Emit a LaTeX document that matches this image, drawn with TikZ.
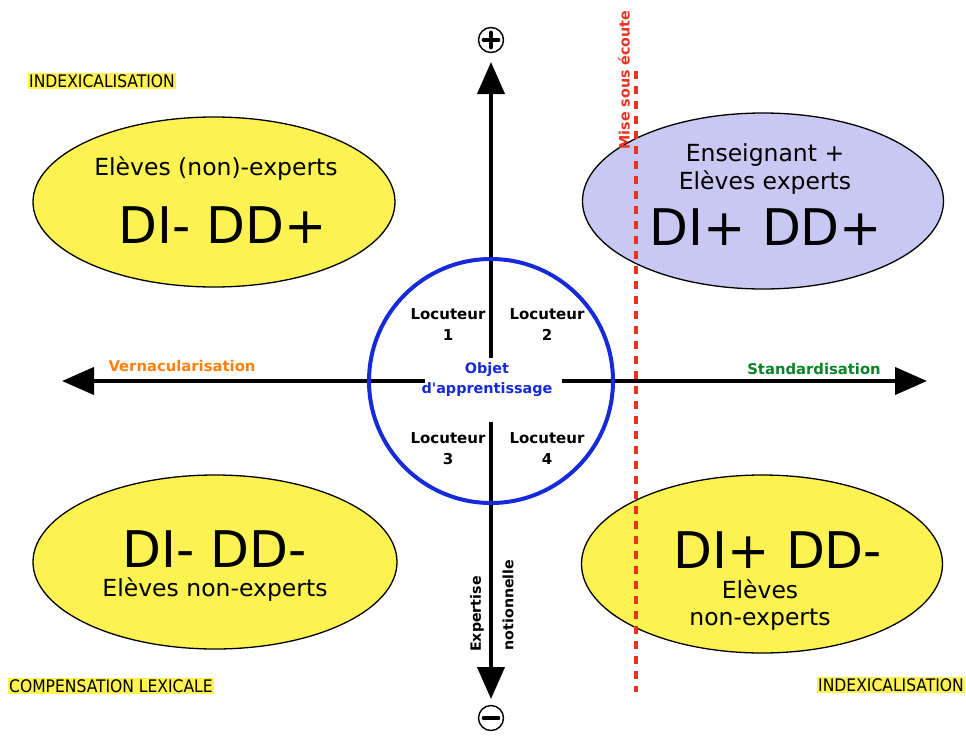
\documentclass[tikz,border=0pt]{standalone}
\usepackage{fontspec}
\setmainfont{DejaVu Sans}
\newfontfamily\condfont{DejaVu Sans Condensed}
\usetikzlibrary{arrows.meta,shapes.geometric}

\definecolor{ovalyellow}{RGB}{252,243,82}
\definecolor{ovallavender}{RGB}{200,200,242}
\definecolor{ringblue}{RGB}{22,42,218}
\definecolor{vernorange}{RGB}{255,128,10}
\definecolor{standgreen}{RGB}{10,130,40}
\definecolor{listenred}{RGB}{235,50,30}
\definecolor{markyellow}{RGB}{254,243,80}

\tikzset{
  oval/.style={ellipse, draw=black, line width=1.3pt, inner sep=0pt},
  axis/.style={line width=4pt, draw=black},
  axisarrow/.style={axis, -{Triangle[length=32pt,width=27pt]}},
  signring/.style={circle, draw=black, line width=1.4pt, minimum size=25pt, inner sep=0pt},
  signbar/.style={line width=3.6pt, line cap=round},
  smalltxt/.style={font=\fontsize{23.5}{28}\selectfont, align=center},
  bigtxt/.style={font=\fontsize{50.5}{54}\selectfont},
  speaker/.style={font=\fontsize{15}{21}\selectfont\bfseries, align=center},
  poletxt/.style={font=\fontsize{14.8}{18}\selectfont\bfseries},
  cornerlabel/.style={fill=markyellow, font=\condfont\fontsize{17.3}{18}\selectfont,
    inner xsep=1.5pt, inner ysep=1.5pt}
}

\begin{document}
\begin{tikzpicture}[x=1pt,y=-1pt]
\useasboundingbox (0,0) rectangle (966,736);

% four ovals
\node[oval, fill=ovalyellow, minimum width=362pt, minimum height=170pt] (tl) at (214,202) {};
\node[oval, fill=ovallavender, minimum width=361pt, minimum height=176pt] (tr) at (763,201) {};
\node[oval, fill=ovalyellow, minimum width=364pt, minimum height=174pt] (bl) at (215,562) {};
\node[oval, fill=ovalyellow, minimum width=361pt, minimum height=178pt] (br) at (762,564) {};

% centre point and axis end points
\coordinate (c) at (491,381);
\coordinate (topin) at (491,358);
\coordinate (toptip) at (491,62);
\coordinate (botin) at (491,422);
\coordinate (bottip) at (491,699);
\coordinate (leftin) at (425,381);
\coordinate (lefttip) at (62,381);
\coordinate (rightin) at (562,381);
\coordinate (righttip) at (927,381);

\draw[axisarrow] (topin) -- (toptip);
\draw[axisarrow] (botin) -- (bottip);
\draw[axisarrow] (leftin) -- (lefttip);
\draw[axisarrow] (rightin) -- (righttip);

% learning object ring
\node[circle, draw=ringblue, line width=4pt, minimum size=244pt, inner sep=0pt] (ring) at (c) {};

% plus and minus poles
\node[signring] (plus) at (491,40) {};
\draw[signbar] ([xshift=-7.5pt]plus.center) -- ([xshift=7.5pt]plus.center);
\draw[signbar] ([yshift=-7.5pt]plus.center) -- ([yshift=7.5pt]plus.center);
\node[signring] (minus) at (491,718) {};
\draw[signbar] ([xshift=-7.5pt]minus.center) -- ([xshift=7.5pt]minus.center);

% listening boundary
\coordinate (listentop) at (636,71);
\coordinate (listenbot) at (636,692);
\draw[listenred, line width=3.6pt, dash pattern=on 8pt off 7pt] (listentop) -- (listenbot);
\node[poletxt, font=\fontsize{14.3}{18}\selectfont\bfseries, text=listenred, rotate=90] (listen) at (624,80) {Mise sous écoute};

% oval texts
\node[smalltxt] (tlsub) at (216,169) {Elèves (non)-experts};
\node[bigtxt] (tlmain) at (223,225) {DI- DD+};
\node[smalltxt] (trsub) at (765,169) {Enseignant +\\Elèves experts};
\node[bigtxt] (trmain) at (766,227) {DI+ DD+};
\node[bigtxt] (blmain) at (215,549) {DI- DD-};
\node[smalltxt] (blsub) at (215,590) {Elèves non-experts};
\node[bigtxt] (brmain) at (778,550) {DI+ DD-};
\node[smalltxt, font=\fontsize{23.5}{27}\selectfont] (brsub) at (760,605) {Elèves\\non-experts};

% speakers and object
\node[speaker] (loc1) at (448,325) {Locuteur\\1};
\node[speaker] (loc2) at (547,325) {Locuteur\\2};
\node[speaker] (loc3) at (448,449) {Locuteur\\3};
\node[speaker] (loc4) at (547,449) {Locuteur\\4};
\node[speaker, text=ringblue, font=\fontsize{14.4}{20}\selectfont\bfseries] (obj) at (487,380) {Objet\\d\textquotesingle apprentissage};

% axis labels
\node[poletxt, text=vernorange] (vern) at (182,366) {Vernacularisation};
\node[poletxt, text=standgreen] (stand) at (814,369) {Standardisation};
\node[poletxt, font=\fontsize{14.2}{18}\selectfont\bfseries, rotate=90] (expa) at (477,614) {Expertise};
\node[poletxt, font=\fontsize{14.2}{18}\selectfont\bfseries, rotate=90] (expb) at (508,605) {notionnelle};

% corner labels
\node[cornerlabel] (cornertl) at (102,81) {INDEXICALISATION};
\node[cornerlabel] (cornerbl) at (111,686) {COMPENSATION LEXICALE};
\node[cornerlabel] (cornerbr) at (891,685) {INDEXICALISATION};
\end{tikzpicture}
\end{document}
